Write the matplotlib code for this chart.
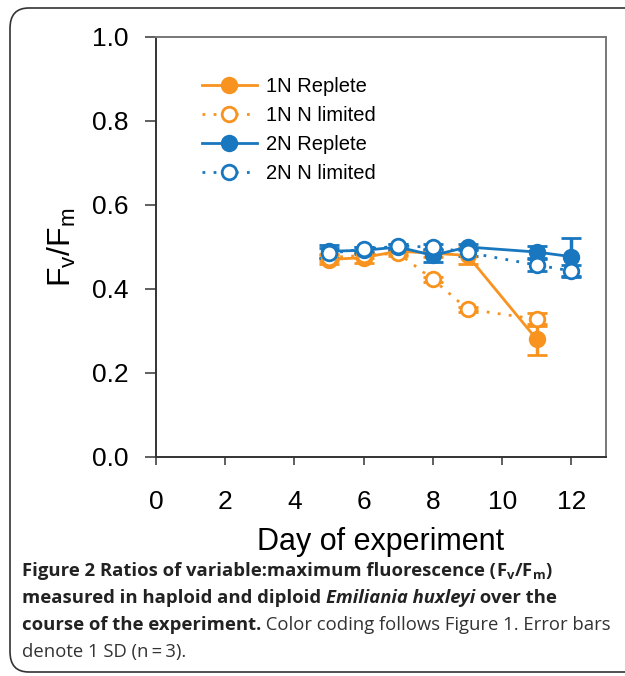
import matplotlib
matplotlib.use("Agg")
import matplotlib.pyplot as plt
from matplotlib.patches import FancyBboxPatch
from matplotlib.lines import Line2D

plt.rcParams['font.family'] = ['Liberation Sans', 'DejaVu Sans']
plt.rcParams['mathtext.fontset'] = 'custom'
plt.rcParams['mathtext.rm'] = 'Liberation Sans'
plt.rcParams['mathtext.it'] = 'Liberation Sans:italic'
plt.rcParams['mathtext.bf'] = 'Open Sans:bold'

# data
days_1n = [5, 6, 7, 8, 9, 11]
days_2n = [5, 6, 7, 8, 9, 11, 12]
rep_1n = [0.470, 0.475, 0.490, 0.485, 0.480, 0.280]
rep_1n_sd = [0.010, 0.012, 0.006, 0.008, 0.020, 0.037]
lim_1n = [0.475, 0.480, 0.485, 0.423, 0.352, 0.328]
lim_1n_sd = [0.008, 0.006, 0.006, 0.006, 0.006, 0.015]
rep_2n = [0.490, 0.492, 0.500, 0.480, 0.500, 0.488, 0.477]
rep_2n_sd = [0.015, 0.008, 0.008, 0.015, 0.008, 0.015, 0.045]
lim_2n = [0.485, 0.495, 0.502, 0.500, 0.487, 0.457, 0.443]
lim_2n_sd = [0.012, 0.006, 0.006, 0.008, 0.008, 0.015, 0.015]

orange = '#F7931E'
blue = '#1877BE'
dotted = (0, (1, 3))

fig = plt.figure(figsize=(6.25, 6.76), dpi=100)
W, H = 625, 676

# rounded frame around figure + caption
frame = FancyBboxPatch((10 / W, 4 / H), 660 / W, 664 / H,
                       boxstyle="round,pad=0,rounding_size=0.03",
                       transform=fig.transFigure, fill=False,
                       edgecolor='#333333', linewidth=1.2)
fig.patches.append(frame)

ax = fig.add_axes([156 / W, 1 - 457 / H, 450 / W, 420 / H])

def series(x, y, sd, color, filled, ls):
    ax.errorbar(x, y, yerr=sd, color=color, linestyle=ls, linewidth=2,
                marker='o', markersize=10.5, markeredgewidth=2,
                markerfacecolor=color if filled else 'white',
                markeredgecolor=color, capsize=7, capthick=2.5,
                elinewidth=2.5)

series(days_1n, rep_1n, rep_1n_sd, orange, True, '-')
series(days_1n, lim_1n, lim_1n_sd, orange, False, dotted)
series(days_2n, rep_2n, rep_2n_sd, blue, True, '-')
series(days_2n, lim_2n, lim_2n_sd, blue, False, dotted)

ax.set_xlim(0, 13)
ax.set_ylim(0, 1.0)
ax.set_xticks(range(0, 13, 2))
ax.set_yticks([0.0, 0.2, 0.4, 0.6, 0.8, 1.0])
ax.set_yticklabels(['0.0', '0.2', '0.4', '0.6', '0.8', '1.0'])
ax.tick_params(axis='both', labelsize=19, direction='out', width=1.2, color='#444444')
ax.tick_params(axis='y', length=8, pad=12)
ax.tick_params(axis='x', length=6, pad=18)
for s in ['left', 'bottom']:
    ax.spines[s].set_color('#333333')
    ax.spines[s].set_linewidth(1.4)
for s in ['top', 'right']:
    ax.spines[s].set_color('#777777')
    ax.spines[s].set_linewidth(1.4)

ax.set_xlabel('Day of experiment', fontsize=22, labelpad=9)
ax.set_ylabel(r'$\mathrm{F_v/F_m}$', fontsize=23, labelpad=10)

handles = [
    Line2D([], [], color=orange, lw=2, marker='o', ms=10.5, mew=2, mfc=orange),
    Line2D([], [], color=orange, lw=2, ls=dotted, marker='o', ms=10.5, mew=2, mfc='white'),
    Line2D([], [], color=blue, lw=2, marker='o', ms=10.5, mew=2, mfc=blue),
    Line2D([], [], color=blue, lw=2, ls=dotted, marker='o', ms=10.5, mew=2, mfc='white'),
]
labels = ['1N Replete', '1N N limited', '2N Replete', '2N N limited']
ax.legend(handles, labels, loc='upper left', bbox_to_anchor=(0.085, 0.925),
          frameon=False, fontsize=14.5, handlelength=2.7, handletextpad=0.45,
          labelspacing=0.5, borderaxespad=0)

# caption with mixed bold / italic / regular runs
renderer = fig.canvas.get_renderer()

def run_line(parts, x0, y):
    x = x0
    for txt, weight, style in parts:
        t = fig.text(x / W, 1 - y / H, txt, fontsize=13.3, family='Open Sans',
                     weight=weight, style=style, va='baseline', ha='left',
                     color='#222222' if weight == 'bold' else '#333333')
        bb = t.get_window_extent(renderer=renderer)
        x += bb.width

run_line([('Figure 2 ', 'bold', 'normal'),
          ('Ratios of variable:maximum fluorescence (', 'bold', 'normal'),
          (r'$\mathbf{F_v/F_m}$', 'bold', 'normal'),
          (')', 'bold', 'normal')], 22, 576)
run_line([('measured in haploid and diploid ', 'bold', 'normal'),
          ('Emiliania huxleyi', 'bold', 'italic'),
          (' over the', 'bold', 'normal')], 22, 603)
run_line([('course of the experiment.', 'bold', 'normal'),
          (' Color coding follows Figure 1. Error bars', 'normal', 'normal')], 22, 630)
run_line([('denote 1 SD (n\u2009=\u20093).', 'normal', 'normal')], 22, 657)

fig.savefig('out.png', dpi=100)
